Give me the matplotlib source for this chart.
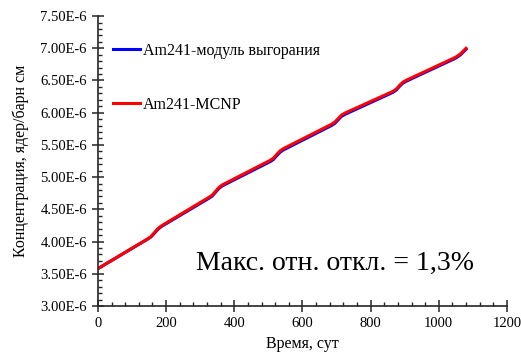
import matplotlib.pyplot as plt
from matplotlib.ticker import MultipleLocator, FuncFormatter

plt.rcParams['font.family'] = ['Liberation Serif', 'DejaVu Serif']

# days and Am241 concentration (1e-6 nuclei/barn cm)
days = [0, 145, 155, 165, 175, 185,
        325, 335, 345, 355, 365,
        505, 515, 525, 535, 545,
        685, 695, 705, 715, 725,
        865, 875, 885, 895, 905,
        1045, 1055, 1065, 1080]
am_module = [3.58, 4.035, 4.07, 4.125, 4.185, 4.23,
             4.67, 4.705, 4.765, 4.825, 4.865,
             5.24, 5.275, 5.335, 5.39, 5.425,
             5.80, 5.835, 5.89, 5.945, 5.975,
             6.315, 6.35, 6.41, 6.46, 6.49,
             6.835, 6.865, 6.905, 6.985]
am_mcnp = [3.58, 4.04, 4.075, 4.135, 4.195, 4.24,
           4.685, 4.72, 4.78, 4.84, 4.88,
           5.26, 5.295, 5.355, 5.41, 5.445,
           5.82, 5.855, 5.91, 5.965, 5.995,
           6.33, 6.365, 6.425, 6.475, 6.505,
           6.85, 6.88, 6.92, 7.00]

fig = plt.figure(figsize=(5.21, 3.54), dpi=100)
ax = fig.add_axes([0.188, 0.1356, 0.785, 0.819])

ax.plot(days, [v * 1e-6 for v in am_module], color='#0000ff', lw=2.2,
        label='Am241-модуль выгорания', solid_joinstyle='round')
ax.plot(days, [v * 1e-6 for v in am_mcnp], color='#ff0000', lw=2.2,
        label='Am241-MCNP', solid_joinstyle='round')

ax.set_xlim(0, 1200)
ax.set_ylim(3.0e-6, 7.5e-6)
ax.xaxis.set_major_locator(MultipleLocator(200))
ax.xaxis.set_minor_locator(MultipleLocator(40))
ax.yaxis.set_major_locator(MultipleLocator(0.5e-6))
ax.yaxis.set_minor_locator(MultipleLocator(0.1e-6))
ax.yaxis.set_major_formatter(FuncFormatter(lambda v, p: f'{v * 1e6:.2f}E-6'))

for s in ['top', 'right']:
    ax.spines[s].set_visible(False)
for s in ['left', 'bottom']:
    ax.spines[s].set_color('#262626')
    ax.spines[s].set_linewidth(1.2)
ax.tick_params(which='major', direction='inout', length=8, width=1.1,
               color='#262626', labelsize=10.5, pad=4)
ax.tick_params(which='minor', direction='in', length=3, width=1.0, color='#262626')

ax.set_xlabel('Время, сут', fontsize=11.5, labelpad=4)
ax.set_ylabel('Концентрация, ядер/барн см', fontsize=11.5, labelpad=8)

ax.legend(loc='upper left', bbox_to_anchor=(0.02, 0.93), frameon=False,
          fontsize=11.5, handlelength=1.75, handletextpad=0.15, labelspacing=2.4,
          borderaxespad=0)

ax.text(0.92, 0.123, 'Макс. отн. откл. = 1,3%', transform=ax.transAxes,
        fontsize=20, ha='right', va='baseline')

fig.savefig('out.png', dpi=100)
